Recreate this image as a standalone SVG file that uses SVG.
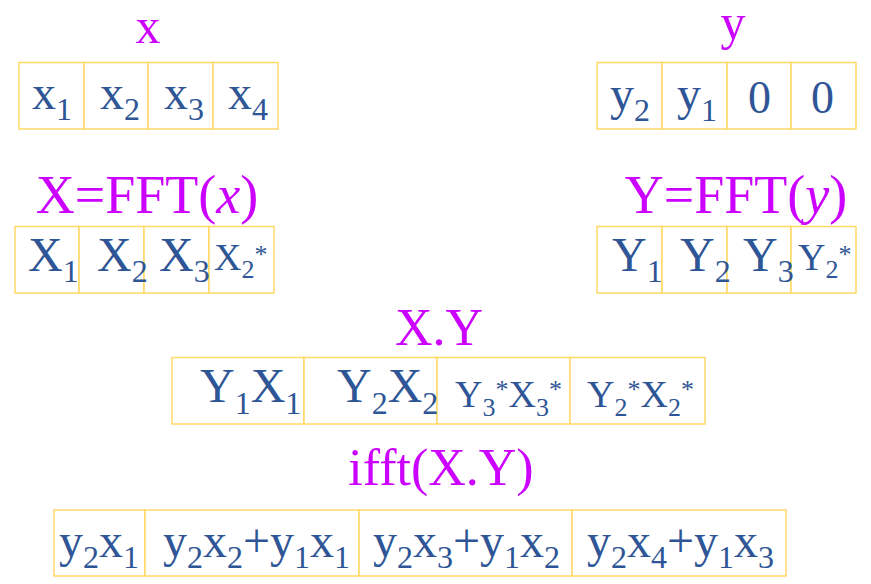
<svg xmlns="http://www.w3.org/2000/svg" width="871" height="584" viewBox="0 0 871 584">
<style>
.cell{fill:#ffffff;stroke:#FFD966;stroke-width:1.5}
.t{font-family:"Liberation Serif","Times New Roman",serif;fill:#2E5596;font-size:48px}
.s{font-size:32px}
.m{font-size:38px}
.ms{font-size:26px}
.title{font-family:"Liberation Serif","Times New Roman",serif;fill:#CC00FF;font-size:52px;text-anchor:middle}
.small{font-size:50px}
.big{font-size:54px}
</style>
<rect width="871" height="584" fill="#ffffff"/>
<g id="connectors"/>
<g id="table-x">
<text class="title small" x="148" y="43">x</text>
<rect class="cell" x="19" y="62.5" width="65" height="66.5"/>
<rect class="cell" x="84" y="62.5" width="64" height="66.5"/>
<rect class="cell" x="148" y="62.5" width="65" height="66.5"/>
<rect class="cell" x="213" y="62.5" width="65" height="66.5"/>
<text class="t" x="32" y="109">x<tspan class="s" dy="11">1</tspan></text>
<text class="t" x="100" y="109">x<tspan class="s" dy="11">2</tspan></text>
<text class="t" x="164" y="109">x<tspan class="s" dy="11">3</tspan></text>
<text class="t" x="228" y="109">x<tspan class="s" dy="11">4</tspan></text>
</g>
<g id="table-y">
<text class="title small" x="733" y="39">y</text>
<rect class="cell" x="597" y="62.5" width="65" height="66.5"/>
<rect class="cell" x="662" y="62.5" width="65" height="66.5"/>
<rect class="cell" x="727" y="62.5" width="64" height="66.5"/>
<rect class="cell" x="791" y="62.5" width="65" height="66.5"/>
<text class="t" x="610" y="110">y<tspan class="s" dy="11">2</tspan></text>
<text class="t" x="677" y="110">y<tspan class="s" dy="11">1</tspan></text>
<text class="t" x="748" y="113" style="font-size:46px">0</text>
<text class="t" x="811" y="113" style="font-size:46px">0</text>
</g>
<g id="table-X">
<text class="title big" x="147" y="213">X=FFT(<tspan font-style="italic">x</tspan>)</text>
<rect class="cell" x="15" y="226.5" width="64" height="66.5"/>
<rect class="cell" x="79" y="226.5" width="65" height="66.5"/>
<rect class="cell" x="144" y="226.5" width="65" height="66.5"/>
<rect class="cell" x="209" y="226.5" width="65" height="66.5"/>
<text class="t" x="28" y="271">X<tspan class="s" dy="11">1</tspan></text>
<text class="t" x="97" y="271">X<tspan class="s" dy="11">2</tspan></text>
<text class="t" x="159" y="271">X<tspan class="s" dy="11">3</tspan></text>
<text class="t m" x="214" y="270">X<tspan class="ms" dy="8">2</tspan><tspan class="ms" dy="-15">*</tspan></text>
</g>
<g id="table-Y">
<text class="title big" x="736" y="213">Y=FFT(<tspan font-style="italic">y</tspan>)</text>
<rect class="cell" x="597" y="226.5" width="65" height="66.5"/>
<rect class="cell" x="662" y="226.5" width="65" height="66.5"/>
<rect class="cell" x="727" y="226.5" width="64" height="66.5"/>
<rect class="cell" x="791" y="226.5" width="65" height="66.5"/>
<text class="t" x="612" y="271">Y<tspan class="s" dy="11">1</tspan></text>
<text class="t" x="680" y="271">Y<tspan class="s" dy="11">2</tspan></text>
<text class="t" x="743" y="271">Y<tspan class="s" dy="11">3</tspan></text>
<text class="t m" x="798" y="270">Y<tspan class="ms" dy="8">2</tspan><tspan class="ms" dy="-15">*</tspan></text>
</g>
<g id="table-XY">
<text class="title" x="439" y="345">X.Y</text>
<rect class="cell" x="172" y="357.5" width="132" height="66.5"/>
<rect class="cell" x="304" y="357.5" width="133" height="66.5"/>
<rect class="cell" x="437" y="357.5" width="133" height="66.5"/>
<rect class="cell" x="570" y="357.5" width="135" height="66.5"/>
<text class="t" x="200" y="402">Y<tspan class="s" dy="12">1</tspan><tspan dy="-12">X</tspan><tspan class="s" dy="12">1</tspan></text>
<text class="t" x="337" y="402">Y<tspan class="s" dy="12">2</tspan><tspan dy="-12">X</tspan><tspan class="s" dy="12">2</tspan></text>
<text class="t m" x="455" y="407">Y<tspan class="ms" dy="9">3</tspan><tspan class="ms" dy="-18">*</tspan><tspan dy="9">X</tspan><tspan class="ms" dy="9">3</tspan><tspan class="ms" dy="-18">*</tspan></text>
<text class="t m" x="587" y="407">Y<tspan class="ms" dy="9">2</tspan><tspan class="ms" dy="-18">*</tspan><tspan dy="9">X</tspan><tspan class="ms" dy="9">2</tspan><tspan class="ms" dy="-18">*</tspan></text>
</g>
<g id="table-ifft">
<text class="title" x="441" y="485">ifft(X.Y)</text>
<rect class="cell" x="54" y="510" width="91" height="66"/>
<rect class="cell" x="145" y="510" width="214" height="66"/>
<rect class="cell" x="359" y="510" width="213" height="66"/>
<rect class="cell" x="572" y="510" width="214" height="66"/>
<text class="t" x="59" y="557">y<tspan class="s" dy="11">2</tspan><tspan dy="-11">x</tspan><tspan class="s" dy="11">1</tspan></text>
<text class="t" x="163" y="557">y<tspan class="s" dy="11">2</tspan><tspan dy="-11">x</tspan><tspan class="s" dy="11">2</tspan><tspan dy="-11">+y</tspan><tspan class="s" dy="11">1</tspan><tspan dy="-11">x</tspan><tspan class="s" dy="11">1</tspan></text>
<text class="t" x="373" y="557">y<tspan class="s" dy="11">2</tspan><tspan dy="-11">x</tspan><tspan class="s" dy="11">3</tspan><tspan dy="-11">+y</tspan><tspan class="s" dy="11">1</tspan><tspan dy="-11">x</tspan><tspan class="s" dy="11">2</tspan></text>
<text class="t" x="587" y="557">y<tspan class="s" dy="11">2</tspan><tspan dy="-11">x</tspan><tspan class="s" dy="11">4</tspan><tspan dy="-11">+y</tspan><tspan class="s" dy="11">1</tspan><tspan dy="-11">x</tspan><tspan class="s" dy="11">3</tspan></text>
</g>
</svg>
